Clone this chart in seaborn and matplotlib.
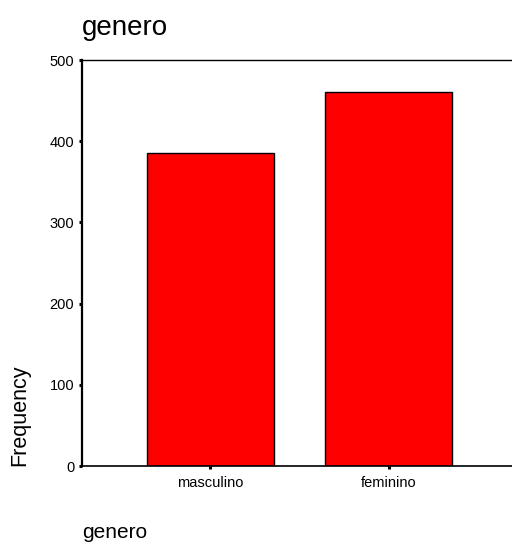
import pandas as pd
import seaborn as sns
import matplotlib.pyplot as plt

# genero counts
categorias = ['masculino', 'feminino']
frecuencias = [386, 460]

df = pd.DataFrame({'genero': categorias, 'Frequency': frecuencias})

sns.set_style('white')
plt.rcParams['font.family'] = ['Liberation Sans', 'DejaVu Sans']
plt.rcParams['text.color'] = 'black'
plt.rcParams['xtick.color'] = 'black'
plt.rcParams['ytick.color'] = 'black'

fig = plt.figure(figsize=(5.12, 5.44), dpi=100)
ax = fig.add_axes([82 / 512, 1 - 466 / 544, 1 - 82 / 512 + 0.01, (466 - 60) / 544])

sns.barplot(data=df, x='genero', y='Frequency', color='#ff0000', saturation=1,
            width=0.715, edgecolor='black', linewidth=1, ax=ax)

ax.set_ylim(0, 500)
ax.set_xlim(-0.72, 1.72)
ax.set_yticks([0, 100, 200, 300, 400, 500])
ax.set_xlabel('')
ax.set_ylabel('')

ax.spines['right'].set_visible(False)
ax.spines['left'].set_linewidth(1.6)
ax.spines['bottom'].set_linewidth(1.2)
ax.spines['top'].set_linewidth(1.0)
for s in ax.spines.values():
    s.set_color('black')

ax.tick_params(axis='both', direction='out', length=2.5, width=2.2, color='black',
               labelcolor='black', labelsize=10.5, pad=3, bottom=True, left=True)
ax.tick_params(axis='x', pad=5)

fig.text(82 / 512, 1 - 35 / 544, 'genero', fontsize=20, ha='left', va='baseline')
fig.text(82 / 512, 1 - 538 / 544, 'genero', fontsize=15, ha='left', va='baseline')
fig.text(9 / 512, 1 - 415 / 544, 'Frequency', fontsize=15.5, rotation=90,
         ha='left', va='center')

plt.savefig('out.png', dpi=100)
